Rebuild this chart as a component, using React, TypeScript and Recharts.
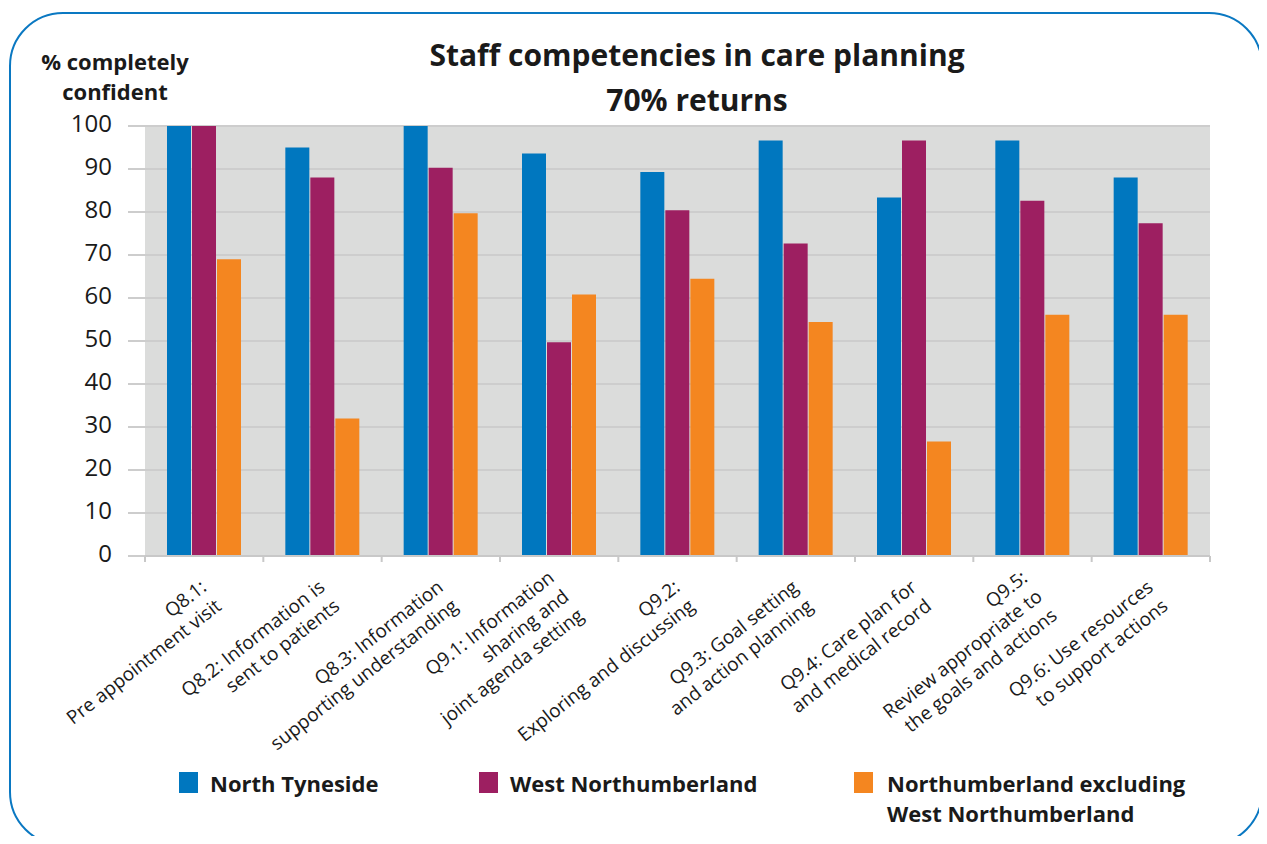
import { BarChart, Bar, XAxis, YAxis, CartesianGrid } from 'recharts';

const categories = [
  'Q8.1:\nPre appointment visit',
  'Q8.2: Information is\nsent to patients',
  'Q8.3: Information\nsupporting understanding',
  'Q9.1: Information\nsharing and\njoint agenda setting',
  'Q9.2:\nExploring and discussing',
  'Q9.3: Goal setting\nand action planning',
  'Q9.4: Care plan for\nand medical record',
  'Q9.5:\nReview appropriate to\nthe goals and actions',
  'Q9.6: Use resources\nto support actions',
];

const northTyneside = [100, 95, 100, 93.6, 89.3, 96.6, 83.4, 96.6, 88];
const westNorthumberland = [100, 88, 90.3, 49.7, 80.4, 72.7, 96.6, 82.6, 77.4];
const northumberlandExcl = [69, 32, 79.7, 60.8, 64.5, 54.4, 26.6, 56.1, 56.1];

const yTicks = [0, 10, 20, 30, 40, 50, 60, 70, 80, 90, 100];

const series = [
  { key: 'northTyneside', name: 'North Tyneside', color: '#0077bf', values: northTyneside },
  { key: 'westNorthumberland', name: 'West Northumberland', color: '#9d1f61', values: westNorthumberland },
  { key: 'northumberlandExcl', name: 'Northumberland excluding West Northumberland', color: '#f48620', values: northumberlandExcl },
];

const data = categories.map((label, i) => {
  const row: Record<string, string | number> = { label };
  series.forEach((s) => {
    row[s.key] = s.values[i];
  });
  return row;
});

const FONT = '"Open Sans", "Noto Sans", sans-serif';
const PLOT_LEFT = 145;
const PLOT_RIGHT = 1210;
const PLOT_TOP = 126;
const PLOT_BOTTOM = 556;
const BAND = (PLOT_RIGHT - PLOT_LEFT) / categories.length;
const LABEL_LINE = 24;

// category labels: right-aligned lines, rotated, block middle anchored under the category
function CategoryTick({ x, payload, index }: any) {
  const lines = String(payload.value).split('\n');
  const isLast = index === categories.length - 1;
  const mid = (lines.length - 1) / 2;
  return (
    <g>
      <line x1={x - BAND / 2} x2={x - BAND / 2} y1={PLOT_BOTTOM} y2={PLOT_BOTTOM + 6} stroke="#c8c8c8" strokeWidth={2} />
      {isLast && (
        <line x1={x + BAND / 2} x2={x + BAND / 2} y1={PLOT_BOTTOM} y2={PLOT_BOTTOM + 6} stroke="#c8c8c8" strokeWidth={2} />
      )}
      <g transform={`translate(${x + 11},${PLOT_BOTTOM + 43}) rotate(-38)`}>
        <text textAnchor="end" fontSize={19} fontFamily={FONT} fill="#1a1a1a">
          {lines.map((l, i) => (
            <tspan key={i} x={0} y={(i - mid) * LABEL_LINE}>
              {l}
            </tspan>
          ))}
        </text>
      </g>
    </g>
  );
}

function ValueTick({ x, y, payload }: any) {
  return (
    <text x={x} y={y} dy={6} textAnchor="end" fontSize={24} fontFamily={FONT} fill="#1a1a1a">
      {payload.value}
    </text>
  );
}

export default function App() {
  return (
    <div
      style={{
        position: 'relative',
        width: 1267,
        height: 844,
        margin: -8,
        overflow: 'hidden',
        background: '#fff',
        fontFamily: FONT,
        color: '#1a1a1a',
      }}
    >
      <div
        style={{
          position: 'absolute',
          left: 9,
          top: 12,
          width: 1254,
          height: 834,
          border: '2px solid #0a78c2',
          borderRadius: 54,
          boxSizing: 'border-box',
        }}
      />
      <div
        style={{
          position: 'absolute',
          left: 297,
          top: 32,
          width: 800,
          textAlign: 'center',
          fontSize: 30,
          fontWeight: 700,
          lineHeight: '45px',
        }}
      >
        Staff competencies in care planning
        <br />
        70% returns
      </div>
      <div
        style={{
          position: 'absolute',
          left: 15,
          top: 46,
          width: 200,
          textAlign: 'center',
          fontSize: 22,
          fontWeight: 700,
          lineHeight: '30px',
        }}
      >
        % completely
        <br />
        confident
      </div>

      <div style={{ position: 'absolute', left: 0, top: 0 }}>
        <BarChart
          width={1267}
          height={844}
          data={data}
          margin={{ top: PLOT_TOP, right: 1267 - PLOT_RIGHT, bottom: 0, left: 0 }}
          barGap={1}
          barSize={24}
        >
          <CartesianGrid vertical={false} fill="#dbdcdb" stroke="#cdcdcd" strokeWidth={2} />
          <XAxis
            dataKey="label"
            height={844 - PLOT_BOTTOM}
            interval={0}
            tickLine={false}
            axisLine={{ stroke: '#c8c8c8', strokeWidth: 2 }}
            tick={<CategoryTick />}
          />
          <YAxis
            width={PLOT_LEFT}
            domain={[0, 100]}
            ticks={yTicks}
            interval={0}
            axisLine={false}
            tickSize={17}
            tickMargin={16}
            tickLine={{ stroke: '#cdcdcd', strokeWidth: 2 }}
            tick={<ValueTick />}
          />
          {series.map((s) => (
            <Bar key={s.key} dataKey={s.key} name={s.name} fill={s.color} isAnimationActive={false} />
          ))}
        </BarChart>
      </div>

      {series.map((s, i) => {
        const left = [179, 479, 854][i];
        return (
          <div key={s.key} style={{ position: 'absolute', left, top: 768, display: 'flex', alignItems: 'flex-start' }}>
            <div style={{ width: 19, height: 21, background: s.color, marginTop: 4 }} />
            <div
              style={{
                marginLeft: [12, 12, 14][i],
                fontSize: 22,
                fontWeight: 700,
                lineHeight: '30px',
                maxWidth: 330,
              }}
            >
              {s.name}
            </div>
          </div>
        );
      })}
    </div>
  );
}
